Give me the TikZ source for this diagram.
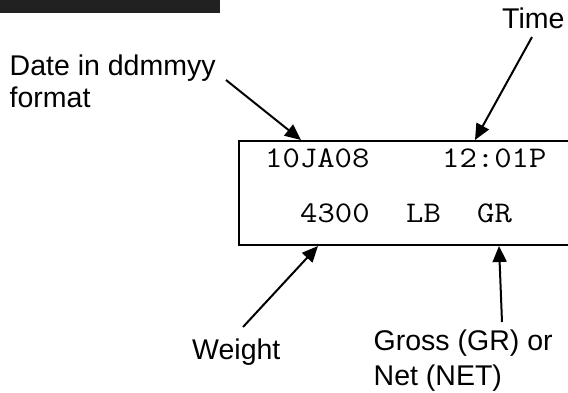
\documentclass[tikz,border=0pt]{standalone}
\usepackage{fontspec}
\usepackage{graphicx}
\setmainfont{Liberation Sans}
\usetikzlibrary{arrows.meta}
\newcommand{\lcdtext}[1]{\scalebox{1.124}[1]{#1}}
\begin{document}
\begin{tikzpicture}[x=1pt,y=-1pt,
  lbl/.style={inner sep=0pt, anchor=base west, align=left, font=\fontsize{28.5}{32}\selectfont},
  lcd/.style={inner sep=0pt, anchor=base west, font=\ttfamily\fontsize{30}{34}\selectfont},
  pointer/.style={line width=2pt, -{Triangle[length=16pt,width=14pt]}}]
\clip (0,0) rectangle (568,392);
\fill[black!87] (0,0) rectangle (220,12.7);
% display window
\draw[line width=2pt] (580,141) -- (239,141) -- (239,245) -- (580,245);
\node[lcd] (dateval) at (265,167) {\lcdtext{10JA08}};
\node[lcd] (timeval) at (442,167) {\lcdtext{12:01P}};
\node[lcd] (wtval) at (300,222) {\lcdtext{4300}};
\node[lcd] (unitval) at (406,222) {\lcdtext{LB}};
\node[lcd] (modeval) at (477,222) {\lcdtext{GR}};
% labels
\node[lbl] (datelbl) at (9.5,107) {Date in ddmmyy\\format};
\node[lbl] (timelbl) at (502,28.5) {Time};
\node[lbl] (weightlbl) at (192,359) {Weight};
\node[lbl, font=\fontsize{28.5}{35.5}\selectfont] (grosslbl) at (373.5,385.5) {Gross (GR) or\\Net (NET)};
% arrow ends
\coordinate (datetip) at (301,140);
\coordinate (timetip) at (475,140);
\coordinate (wttip) at (318,246);
\coordinate (grosstip) at (499,246);
\coordinate (datefrom) at (226,80);
\coordinate (timefrom) at (532,37);
\coordinate (wtfrom) at (243,327);
\coordinate (grossfrom) at (502,322);
\draw[pointer] (datefrom) -- (datetip);
\draw[pointer] (timefrom) -- (timetip);
\draw[pointer] (wtfrom) -- (wttip);
\draw[pointer] (grossfrom) -- (grosstip);
\end{tikzpicture}
\end{document}
